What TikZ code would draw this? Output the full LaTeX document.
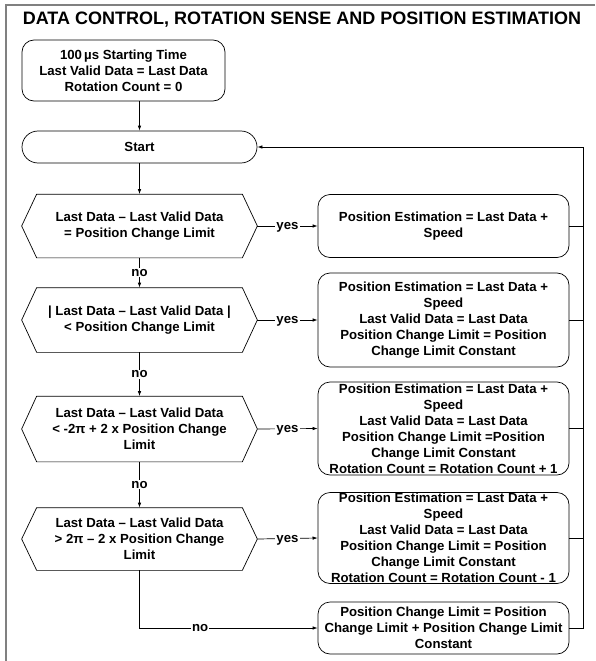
\documentclass[tikz,border=0pt]{standalone}
\usepackage{fontspec}
\setmainfont{Liberation Sans}
\usetikzlibrary{positioning,arrows.meta,calc}

\tikzset{
  txt/.style={font=\bfseries\fontsize{13.2}{16}\selectfont, align=center, inner sep=0pt},
  proc/.style={txt, draw, rounded corners=12pt, minimum width=251pt},
  term/.style={txt, draw, rounded corners=16pt, minimum width=235pt, minimum height=32pt},
  dec/.style={txt, minimum width=235pt},
  lbl/.style={txt, fill=white, inner sep=1pt},
}

\begin{document}
\begin{tikzpicture}[x=1pt,y=-1pt,>={Latex[length=5pt,width=3.5pt]},line width=0.7pt]
  \useasboundingbox (0,0) rectangle (595,661);
  \draw[gray,line width=1.5pt] (6,661) -- (6,5) -- (595,5);
  \node[font=\bfseries\fontsize{18}{22}\selectfont] (title) at (302,20) {DATA CONTROL, ROTATION SENSE AND POSITION ESTIMATION};

  \node[proc, minimum width=203pt, minimum height=61pt] (init) at (123.5,70.5) {100\,µs Starting Time\\Last Valid Data = Last Data\\Rotation Count = 0};
  \node[term] (start) at (139.5,147) {Start};

  \node[dec, minimum height=63pt] (d1) at (139.5,226) {Last Data – Last Valid Data\\= Position Change Limit};
  \node[dec, minimum height=64pt] (d2) at (139.5,320) {| Last Data – Last Valid Data |\\< Position Change Limit};
  \node[dec, minimum height=65pt] (d3) at (139.5,429) {Last Data – Last Valid Data\\< -2π + 2 x Position Change\\Limit};
  \node[dec, minimum height=62pt] (d4) at (139.5,539) {Last Data – Last Valid Data\\> 2π – 2 x Position Change\\Limit};
  \foreach \d in {d1,d2,d3,d4}
    \draw ($(\d.north west)+(15,0)$) -- ($(\d.north east)+(-15,0)$) -- (\d.east) -- ($(\d.south east)+(-15,0)$) -- ($(\d.south west)+(15,0)$) -- (\d.west) -- cycle;

  \node[proc, minimum height=63pt] (r1) at (443.5,226) {Position Estimation = Last Data +\\Speed};
  \node[proc, minimum height=94pt] (r2) at (443.5,320) {Position Estimation = Last Data +\\Speed\\Last Valid Data = Last Data\\Position Change Limit = Position\\Change Limit Constant};
  \node[proc, minimum height=93pt] (r3) at (443.5,428.5) {Position Estimation = Last Data +\\Speed\\Last Valid Data = Last Data\\Position Change Limit =Position\\Change Limit Constant\\Rotation Count = Rotation Count + 1};
  \node[proc, minimum height=91pt] (r4) at (443.5,538) {Position Estimation = Last Data +\\Speed\\Last Valid Data = Last Data\\Position Change Limit = Position\\Change Limit Constant\\Rotation Count = Rotation Count - 1};
  \node[proc, minimum height=52pt] (r5) at (443.5,628) {Position Change Limit = Position\\Change Limit + Position Change Limit\\Constant};
  \coordinate (fb) at (583,147);

  \draw[->] (start |- init.south) -- (start.north);
  \draw[->] (start.south) -- (d1.north);
  \foreach \a/\b in {d1/d2,d2/d3,d3/d4}
    \draw[->] (\a.south) -- node[lbl]{no} (\b.north);
  \foreach \d/\r in {d1/r1,d2/r2,d3/r3,d4/r4}
    \draw[->] (\d.east) -- node[lbl,yshift=-1.4pt]{yes} (\r.west);
  \draw[->] (d4.south) |- node[lbl,pos=0.67]{no} (r5.west);
  \foreach \r in {r1,r2,r3,r4}
    \draw (\r.east) -- (\r.east -| fb);
  \draw[->] (r5.east) -| (fb) -- (start.east);
\end{tikzpicture}
\end{document}
